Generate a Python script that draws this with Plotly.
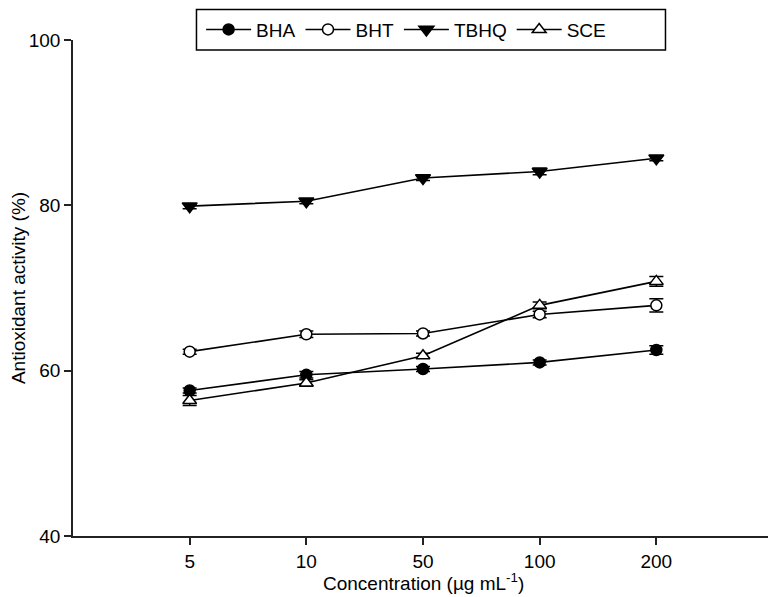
import plotly.graph_objects as go

categories = ["5", "10", "50", "100", "200"]
bha = [57.6, 59.5, 60.2, 61.0, 62.5]
bha_err = [0.3, 0.4, 0.3, 0.3, 0.5]
bht = [62.3, 64.4, 64.5, 66.8, 67.9]
bht_err = [0.3, 0.4, 0.3, 0.4, 0.8]
tbhq = [79.9, 80.5, 83.3, 84.1, 85.7]
tbhq_err = [0.3, 0.3, 0.3, 0.4, 0.3]
sce = [56.4, 58.5, 61.8, 67.9, 70.8]
sce_err = [0.6, 0.4, 0.3, 0.4, 0.6]

series = [
    ("BHA", bha, bha_err, "circle", "black", 11),
    ("BHT", bht, bht_err, "circle", "white", 11),
    ("TBHQ", tbhq, tbhq_err, "triangle-down", "black", 13),
    ("SCE", sce, sce_err, "triangle-up", "white", 12),
]

fig = go.Figure()
for name, vals, errs, sym, fill, size in series:
    fig.add_trace(go.Scatter(
        x=categories, y=vals, name=name, mode="lines+markers",
        line=dict(color="black", width=1.6),
        marker=dict(symbol=sym, size=size, color=fill,
                    line=dict(color="black", width=1.5)),
        error_y=dict(type="data", array=errs, visible=True,
                     color="black", thickness=1.5, width=7),
    ))

font = "Liberation Sans, Arial, sans-serif"
# legend frame drawn as a paper-space rectangle
fig.add_shape(type="rect", xref="paper", yref="paper",
              x0=0.1764, x1=0.8464, y0=0.9798, y1=1.0615,
              line=dict(color="black", width=1.5), fillcolor="white",
              layer="below")

# x-axis title placed as an annotation so it sits where the reference has it
fig.add_annotation(text="Concentration (µg mL<sup>-1</sup>)",
                   xref="paper", yref="paper", x=0.5, y=-0.092,
                   xanchor="center", yanchor="middle", showarrow=False,
                   font=dict(size=19))

# page body adds an 8px offset, so the figure is 8px smaller and shifted
fig.update_layout(
    width=768, height=589,
    margin=dict(l=62, r=3, t=32, b=61),
    plot_bgcolor="white", paper_bgcolor="white",
    font=dict(family=font, size=19, color="black"),
    showlegend=True,
    legend=dict(
        orientation="h", x=0.183, y=1.021, xanchor="left", yanchor="middle",
        borderwidth=0, bgcolor="rgba(0,0,0,0)",
        font=dict(size=19), itemwidth=45,
    ),
    xaxis=dict(
        type="category", range=[-1, 5], showgrid=False, zeroline=False,
        showline=True, linecolor="#222", linewidth=1.5,
        ticks="outside", ticklen=7, tickwidth=1.5, tickcolor="#222",
        tickfont=dict(size=19),
    ),
    yaxis=dict(
        range=[40, 100], tickvals=[40, 60, 80, 100], showgrid=False,
        zeroline=False, showline=True, linecolor="#222", linewidth=1.5,
        ticks="outside", ticklen=7, tickwidth=1.5, tickcolor="#222",
        title=dict(text="Antioxidant activity (%)", standoff=4,
                   font=dict(size=19)),
        tickfont=dict(size=19),
    ),
)

fig.write_html("out.html")
